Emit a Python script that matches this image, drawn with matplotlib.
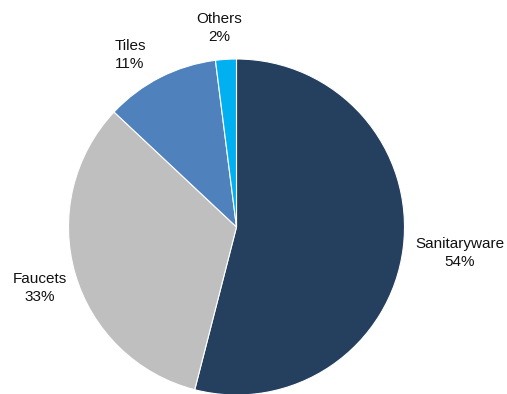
import numpy as np
import matplotlib.pyplot as plt

plt.rcParams['font.family'] = ['Liberation Sans', 'DejaVu Sans']

labels = ['Sanitaryware', 'Faucets', 'Tiles', 'Others']
shares = [54, 33, 11, 2]
colors = ['#253F5F', '#BFBFBF', '#4F81BD', '#00B0F0']


def main():
    fig = plt.figure(figsize=(5.07, 3.94), dpi=100)
    W, H = 507, 394
    cx, cy, r = 236.5, 227, 168
    ax = fig.add_axes([(cx - r) / W, (H - cy - r) / H, 2 * r / W, 2 * r / H])
    ax.pie(shares, colors=colors, startangle=90, counterclock=False,
           radius=1, wedgeprops=dict(edgecolor='white', linewidth=0.8))
    ax.set_xlim(-1, 1)
    ax.set_ylim(-1, 1)
    ax.set_aspect('equal')
    ax.axis('off')

    # label centres in pixels of the original picture
    pos = [(460, 253), (40, 288), (130, 55), (219, 28)]
    for name, v, (px, py) in zip(labels, shares, pos):
        ax.text((px - cx) / r, (cy - py) / r, f'{name}\n{v}%',
                ha='center', va='center', fontsize=11, color='#111111',
                linespacing=1.4, clip_on=False)

    fig.savefig('out.png', dpi=100)


if __name__ == '__main__':
    main()
